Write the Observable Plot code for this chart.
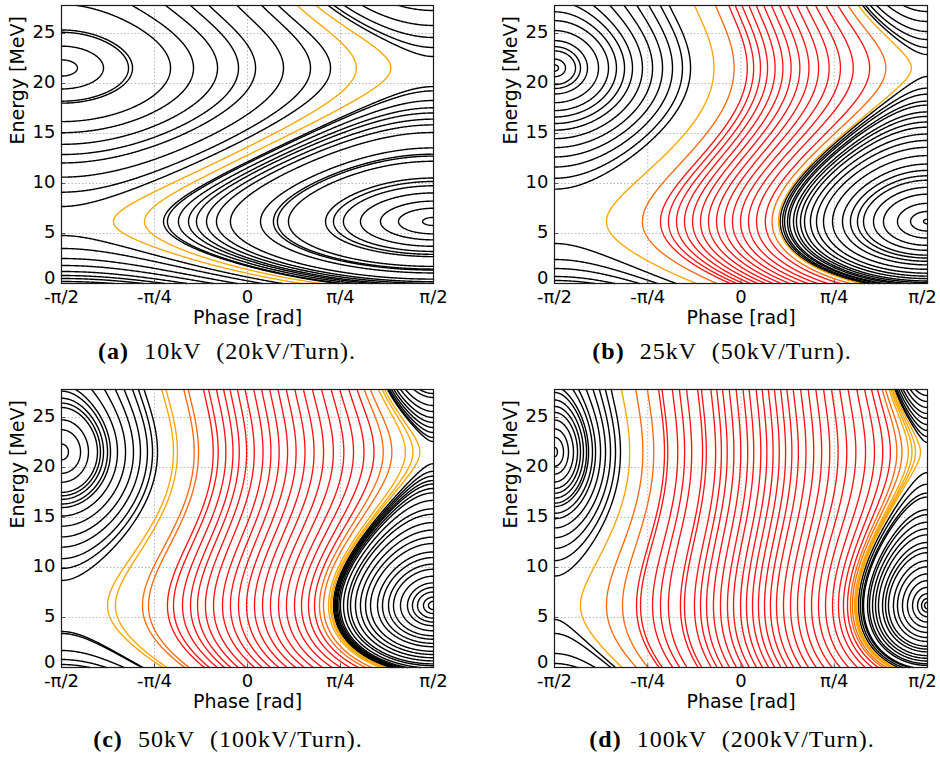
<!DOCTYPE html>
<html>
<head>
<meta charset="utf-8">
<script src="https://cdn.jsdelivr.net/npm/d3@7"></script>
<script src="https://cdn.jsdelivr.net/npm/@observablehq/plot@0.6"></script>
<style>
  body { margin: 0; background: #fff; }
  #fig { position: relative; width: 940px; height: 758px; overflow: hidden; background: #fff; }
  .panel { position: absolute; }
  .panel svg { overflow: visible; }
  .cap { position: absolute; width: 440px; text-align: center; font-family: "Liberation Serif", "DejaVu Serif", serif;
         font-size: 24px; line-height: 28px; word-spacing: 0.34em; letter-spacing: 1px; white-space: nowrap; color: #000; }
  .cap b { font-weight: bold; }
</style>
</head>
<body>
<div id="fig"></div>
<script>
// ---- axes ----
const phaseTicks = [-Math.PI / 2, -Math.PI / 4, 0, Math.PI / 4, Math.PI / 2];
const phaseLabels = ["-π/2", "-π/4", "0", "π/4", "π/2"];
const energyTicks = [0, 5, 10, 15, 20, 25];
const energyMax = 27.8;

// ---- machine ----
const panelLetters = ["a", "b", "c", "d"];
const gapVoltage = [10, 25, 50, 100];     // kV
const turnVoltage = [20, 50, 100, 200];   // kV per turn
const fixedPointEnergy = [6.2, 21.55];    // MeV, phase-slip zeros (island centres)
const slipRollOffEnergy = 30.5;           // MeV, phase slip flattens towards this energy
const channelOpenVoltage = 17;            // kV scale of the RF term

// ---- trajectories, panel (a) ----
// channel: phase of the left turning point at the lower fixed-point energy
const aChannelPhase = [-1.132, -0.87];
const aChannelKind = ["edge", "edge"];
const aLowerPhase = [-0.709, -0.676, -0.583, -0.498, -0.431, -0.346, -0.262, -0.144, 0.110, 0.219, 0.253, 0.346, 0.659, 0.726, 0.810, 0.954, 1.123, 1.275, 1.478];
// upper region: phase of the right turning point at the upper fixed-point energy
const aUpperPhase = [-1.436, -1.216, -1.005, -0.971, -0.650, -0.456, -0.253, -0.076, 0.068, 0.304, 0.532, 0.701];
const aLeftEdgeEnergy = [4.8, 3.5, 2.5, 1.8, 1.2, 0.8, 0.5, 0.2];
const aRightEdgeEnergy = [27.3, 25.8, 24.6, 23.6, 22.7];

// ---- panel (b) ----
const bChannelPhase = [-1.133, -0.830, -0.678, -0.611, -0.543, -0.476, -0.408, -0.341, -0.274, -0.206, -0.139, -0.072, -0.004, 0.063, 0.131, 0.205, 0.262, 0.316];
const bChannelKind = ["edge", "near", "core", "core", "core", "core", "core", "core", "core", "core", "core", "core", "core", "core", "core", "core", "near", "edge"];
const bLowerPhase = [0.330, 0.350, 0.367, 0.392, 0.409, 0.442, 0.467, 0.501, 0.535, 0.585, 0.636, 0.695, 0.771, 0.855, 0.922, 0.981, 1.032, 1.116, 1.200, 1.318, 1.428, 1.537];
const bUpperPhase = [-1.537, -1.478, -1.394, -1.352, -1.293, -1.200, -1.116, -1.049, -0.981, -0.914, -0.830, -0.745, -0.661, -0.577, -0.493, -0.425];
const bLeftEdgeEnergy = [4.0, 2.4, 1.5, 0.7, 0.3];
const bRightEdgeEnergy = [27.2, 26.2, 25.2, 24.4, 23.6, 22.9];

// ---- panel (c) ----
const cChannelPhase = [-1.182, -1.115, -0.887, -0.836, -0.676, -0.625, -0.549, -0.481, -0.422, -0.355, -0.287, -0.211, -0.144, -0.076, -0.008, 0.059, 0.127, 0.194, 0.262, 0.329, 0.397, 0.456, 0.515, 0.566, 0.608, 0.642, 0.684, 0.701, 0.712];
const cChannelKind = ["edge", "edge", "near", "near", "core", "core", "core", "core", "core", "core", "core", "core", "core", "core", "core", "core", "core", "core", "core", "core", "core", "core", "core", "core", "near", "near", "edge", "edge", "edge"];
const cLowerPhase = [0.726, 0.735, 0.743, 0.752, 0.760, 0.772, 0.785, 0.811, 0.845, 0.870, 0.912, 0.954, 0.997, 1.039, 1.098, 1.140, 1.191, 1.233, 1.292, 1.351, 1.393, 1.436, 1.486, 1.528];
const cUpperPhase = [-1.512, -1.410, -1.343, -1.267, -1.242, -1.216, -1.182, -1.157, -1.098, -1.030, -0.963, -0.904, -0.845, -0.802, -0.760];
const cLeftEdgeEnergy = [3.6, 3.4, 1.7, 0.8, 0.3];
const cRightEdgeEnergy = [27.4, 27.0, 26.2, 25.6, 25.0, 24.5, 24.0, 23.5, 23.0, 22.6];

// ---- panel (d) ----
const dChannelPhase = [-1.352, -1.133, -0.998, -0.880, -0.846, -0.745, -0.678, -0.611, -0.510, -0.476, -0.392, -0.341, -0.290, -0.232, -0.173, -0.114, -0.063, -0.004, 0.046, 0.097, 0.147, 0.198, 0.248, 0.299, 0.358, 0.417, 0.476, 0.535, 0.594, 0.653, 0.712, 0.771, 0.821, 0.863, 0.897, 0.922, 0.939, 0.956, 0.964, 0.970, 0.976];
const dChannelKind = ["edge", "near", "near", "core", "core", "core", "core", "core", "core", "core", "core", "core", "core", "core", "core", "core", "core", "core", "core", "core", "core", "core", "core", "core", "core", "core", "core", "core", "core", "core", "core", "core", "core", "core", "core", "near", "near", "edge", "edge", "edge", "edge"];
const dLowerPhase = [0.990, 1.006, 1.023, 1.032, 1.066, 1.082, 1.108, 1.133, 1.158, 1.192, 1.217, 1.242, 1.284, 1.318, 1.360, 1.402, 1.445, 1.487, 1.521, 1.546];
const dUpperPhase = [-1.546, -1.495, -1.453, -1.411, -1.377, -1.352, -1.327, -1.301, -1.284, -1.251, -1.225, -1.183, -1.141, -1.099, -1.057, -1.015];
const dLeftEdgeEnergy = [4.8, 3.4, 1.4, 0.4];
const dRightEdgeEnergy = [27.2, 26.6, 26.0, 25.4, 24.9, 24.3, 23.7, 23.1, 22.5];

const kindColor = { black: "#000000", core: "#ff1414", near: "#ff6a0e", edge: "#ffa500" };

// ---- Hamiltonian H(phi, E) = S(E) + K sin(phi), S' = phase slip per turn ----
const [E1, E2] = fixedPointEnergy;
const sumE = E1 + E2, prodE = E1 * E2, rollA = 1 / (slipRollOffEnergy * slipRollOffEnergy);
function slipIntegral(E) {
  const q = E ** 3 / 3 - sumE * E ** 2 / 2 + prodE * E;
  const n = E ** 5 / 5 - sumE * E ** 4 / 4 + prodE * E ** 3 / 3;
  return q - rollA * n;
}
const S1 = slipIntegral(E1), S2 = slipIntegral(E2), bucket = S1 - S2;

// Trace the level set H = h as phase(E) branches inside lo..hi
function traceLevel(h, K, lo, hi) {
  const sAt = E => (h - slipIntegral(E)) / K;
  const inside = s => s >= -1 && s <= 1;
  const cl = s => Math.max(-1, Math.min(1, s));
  const runs = [];
  let run = null;
  const edge = (Ein, Eout) => {
    for (let k = 0; k < 48; k++) { const m = (Ein + Eout) / 2; if (inside(sAt(m))) Ein = m; else Eout = m; }
    return Ein;
  };
  const refine = (Ea, Eb, depth) => {
    const pa = Math.asin(cl(sAt(Ea))), pb = Math.asin(cl(sAt(Eb)));
    if (Math.abs(pb - pa) > 0.014 && depth < 16) {
      const m = (Ea + Eb) / 2; refine(Ea, m, depth + 1); refine(m, Eb, depth + 1);
    } else run.push([pb, Eb]);
  };
  const n = 320;
  let Ep = lo, sp = sAt(lo);
  if (inside(sp)) run = [[Math.asin(sp), lo]];
  for (let i = 1; i <= n; i++) {
    const E = lo + (hi - lo) * i / n, s = sAt(E);
    const a = inside(sp), b = inside(s);
    if (a && b) refine(Ep, E, 0);
    else if (a && !b) { const Eb = edge(Ep, E); refine(Ep, Eb, 0); runs.push(run); run = null; }
    else if (!a && b) { const Eb = edge(E, Ep); run = [[Math.asin(cl(sAt(Eb))), Eb]]; refine(Eb, E, 0); }
    Ep = E; sp = s;
  }
  if (run) runs.push(run);
  return runs;
}

const panels = [
  { V: gapVoltage[0], T: turnVoltage[0], ch: aChannelPhase, kind: aChannelKind, lower: aLowerPhase, upper: aUpperPhase, left: aLeftEdgeEnergy, right: aRightEdgeEnergy },
  { V: gapVoltage[1], T: turnVoltage[1], ch: bChannelPhase, kind: bChannelKind, lower: bLowerPhase, upper: bUpperPhase, left: bLeftEdgeEnergy, right: bRightEdgeEnergy },
  { V: gapVoltage[2], T: turnVoltage[2], ch: cChannelPhase, kind: cChannelKind, lower: cLowerPhase, upper: cUpperPhase, left: cLeftEdgeEnergy, right: cRightEdgeEnergy },
  { V: gapVoltage[3], T: turnVoltage[3], ch: dChannelPhase, kind: dChannelKind, lower: dLowerPhase, upper: dUpperPhase, left: dLeftEdgeEnergy, right: dRightEdgeEnergy }
];

// layout of the 2x2 figure
const place = [
  { left: 0, top: 0, ml: 61, mr: 37, lastDx: 0, capX: 227, capY: 337 },
  { left: 470, top: 0, ml: 84, mr: 13, lastDx: -5, capX: 722, capY: 337 },
  { left: 0, top: 384, ml: 61, mr: 37, lastDx: 0, capX: 228, capY: 725 },
  { left: 470, top: 384, ml: 84, mr: 13, lastDx: -5, capX: 732, capY: 725 }
];

const fig = document.getElementById("fig");
const tickLabel = d => phaseLabels[phaseTicks.indexOf(d)];

panels.forEach((p, i) => {
  const K = bucket * p.V / channelOpenVoltage;
  const groups = { black: [], core: [], near: [], edge: [] };
  let id = 0;
  const add = (h, kind, lo, hi) => {
    for (const r of traceLevel(h, K, lo, hi)) {
      id++;
      for (const [x, y] of r) groups[kind].push({ x, y, z: id });
    }
  };
  p.upper.forEach(ph => add(S2 + K * Math.sin(ph), "black", E1, energyMax));
  p.lower.forEach(ph => add(S1 + K * Math.sin(ph), "black", 0, E2));
  p.left.forEach(E => add(slipIntegral(E) - K, "black", 0, E1));
  p.right.forEach(E => add(slipIntegral(E) + K, "black", E2, energyMax));
  p.ch.forEach((ph, j) => add(S1 + K * Math.sin(ph), p.kind[j], 0, energyMax));

  const lineMarks = ["black", "core", "near", "edge"].map(k =>
    Plot.line(groups[k], { x: "x", y: "y", z: "z", stroke: kindColor[k], strokeWidth: k === "black" ? 1.4 : 1.35 })
  );

  const pl = place[i];
  const chart = Plot.plot({
    width: 470,
    height: 335,
    marginLeft: pl.ml,
    marginRight: pl.mr,
    marginTop: 5,
    marginBottom: 52,
    style: { fontFamily: "DejaVu Sans", background: "#fff", color: "#000" },
    x: { domain: [-Math.PI / 2, Math.PI / 2] },
    y: { domain: [0, energyMax] },
    marks: [
      Plot.gridX(phaseTicks.slice(1, -1), { stroke: "#9a9a9a", strokeOpacity: 0.7, strokeDasharray: "1.5,2" }),
      Plot.gridY(energyTicks.slice(1), { stroke: "#9a9a9a", strokeOpacity: 0.7, strokeDasharray: "1.5,2" }),
      ...lineMarks,
      // short inward ticks on the left and bottom edges
      Plot.ruleY(energyTicks.slice(1), { x1: -Math.PI / 2, x2: -Math.PI / 2 + 0.035, stroke: "#555" }),
      Plot.ruleX(phaseTicks.slice(1, -1), { y1: 0, y2: 0.35, stroke: "#555" }),
      Plot.axisX(phaseTicks.slice(0, -1), { tickSize: 0, tickPadding: 7, fontSize: 18, label: null, tickFormat: tickLabel }),
      Plot.axisX(phaseTicks.slice(-1), { tickSize: 0, tickPadding: 7, fontSize: 18, label: null, dx: pl.lastDx, tickFormat: tickLabel }),
      Plot.axisY(energyTicks.slice(1), { tickSize: 0, tickPadding: 6, fontSize: 18, label: null, dy: -1 }),
      Plot.axisY(energyTicks.slice(0, 1), { tickSize: 0, tickPadding: 6, fontSize: 18, label: null, dy: -5 }),
      Plot.text(["Phase [rad]"], { text: d => d, frameAnchor: "bottom", dy: 40, fontSize: 19 }),
      Plot.text(["Energy [MeV]"], { text: d => d, frameAnchor: "left", dx: -44, rotate: -90, fontSize: 19 }),
      Plot.frame({ stroke: "#1a1a1a", strokeWidth: 1.2 })
    ]
  });
  const holder = document.createElement("div");
  holder.className = "panel";
  holder.style.left = pl.left + "px";
  holder.style.top = pl.top + "px";
  holder.appendChild(chart);
  fig.appendChild(holder);

  const cap = document.createElement("div");
  cap.className = "cap";
  cap.style.left = (pl.capX - 220) + "px";
  cap.style.top = pl.capY + "px";
  const b = document.createElement("b");
  b.textContent = "(" + panelLetters[i] + ")";
  cap.appendChild(b);
  cap.appendChild(document.createTextNode(" " + p.V + "kV (" + p.T + "kV/Turn)."));
  fig.appendChild(cap);
});
</script>
</body>
</html>
